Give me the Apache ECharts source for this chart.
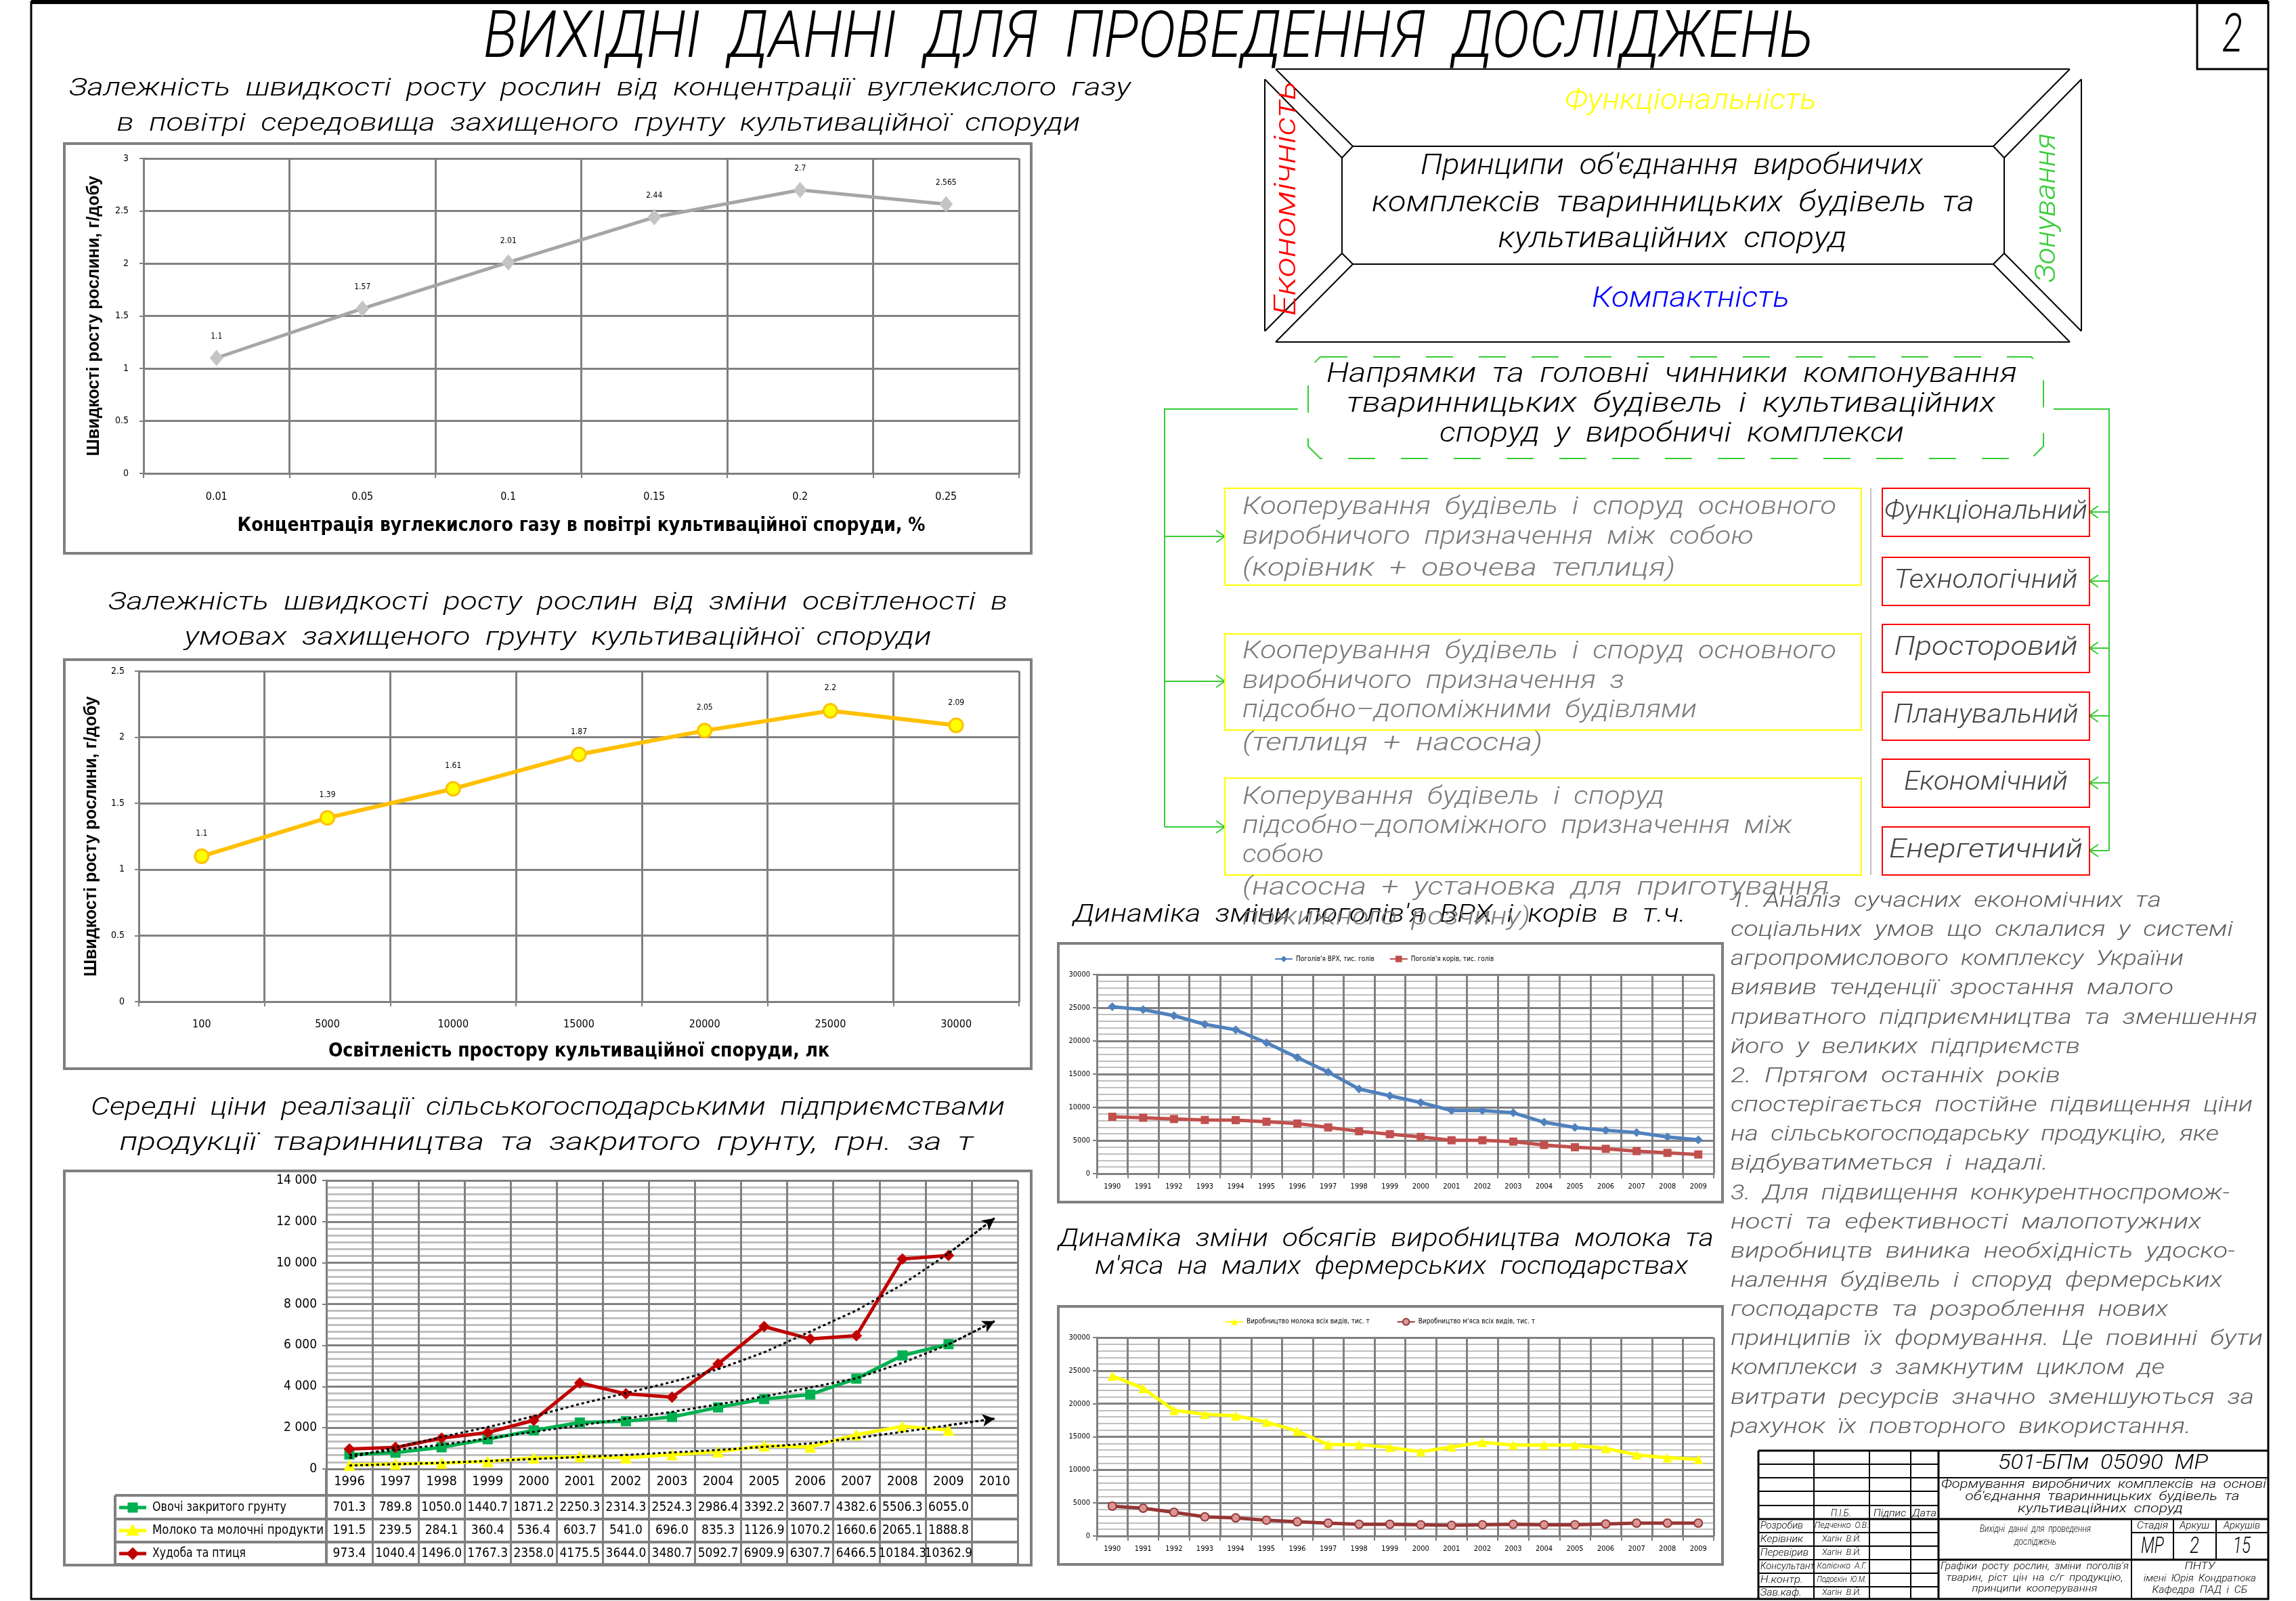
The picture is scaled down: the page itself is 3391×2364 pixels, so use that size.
<!DOCTYPE html>
<html><head><meta charset="utf-8">
<script src="https://cdn.jsdelivr.net/npm/echarts@6/dist/echarts.min.js"></script>
<style>html,body{margin:0;padding:0;background:#fff}#c{width:3391px;height:2364px}</style>
</head><body><div id="c"></div>
<script>
// ---------------- DATA ----------------
const co2Cats = ['0.01','0.05','0.1','0.15','0.2','0.25'];
const co2Growth = [1.1, 1.57, 2.01, 2.44, 2.7, 2.565];
const luxCats = ['100','5000','10000','15000','20000','25000','30000'];
const luxGrowth = [1.1, 1.39, 1.61, 1.87, 2.05, 2.2, 2.09];
const priceYears = ['1996','1997','1998','1999','2000','2001','2002','2003','2004','2005','2006','2007','2008','2009','2010'];
const vegPrice  = [701.3, 789.8, 1050.0, 1440.7, 1871.2, 2250.3, 2314.3, 2524.3, 2986.4, 3392.2, 3607.7, 4382.6, 5506.3, 6055.0, null];
const milkPrice = [191.5, 239.5, 284.1, 360.4, 536.4, 603.7, 541.0, 696.0, 835.3, 1126.9, 1070.2, 1660.6, 2065.1, 1888.8, null];
const meatPrice = [973.4, 1040.4, 1496.0, 1767.3, 2358.0, 4175.5, 3644.0, 3480.7, 5092.7, 6909.9, 6307.7, 6466.5, 10184.3, 10362.9, null];
const vegTrend  = [670, 920, 1175, 1480, 1800, 2110, 2440, 2770, 3130, 3520, 3950, 4400, 5150, 6040, 7170];
const milkTrend = [165, 230, 300, 385, 480, 580, 680, 800, 920, 1070, 1240, 1500, 1800, 2120, 2440];
const meatTrend = [540, 1050, 1550, 2030, 2560, 3150, 3680, 4220, 4840, 5660, 6670, 7690, 8950, 10460, 12170];
const priceRowNames = ['Овочі закритого грунту', 'Молоко та молочні продукти', 'Худоба та птиця'];
const herdYears = ['1990','1991','1992','1993','1994','1995','1996','1997','1998','1999','2000','2001','2002','2003','2004','2005','2006','2007','2008','2009'];
const cattleHead = [25160, 24720, 23800, 22500, 21690, 19720, 17510, 15300, 12750, 11730, 10710, 9520, 9520, 9180, 7750, 6970, 6530, 6190, 5540, 5100];
const cowHead    = [8570, 8430, 8230, 8090, 8060, 7820, 7550, 6970, 6390, 5950, 5540, 5030, 5030, 4830, 4320, 3980, 3740, 3400, 3130, 2890];
const milkOutput = [24200, 22330, 18990, 18410, 18170, 17220, 15850, 13810, 13810, 13400, 12720, 13470, 14150, 13740, 13740, 13740, 13230, 12270, 11830, 11590];
const meatOutput = [4500, 4190, 3580, 2900, 2730, 2390, 2150, 1940, 1770, 1770, 1700, 1600, 1700, 1770, 1700, 1700, 1810, 1940, 1940, 1940];

// ---------------- HELPERS ----------------
const THIN = "Roboto, 'DejaVu Sans'";
const THIN_W = 300;
const NARROW = 'Liberation Sans Narrow, DejaVu Sans Condensed, sans-serif';
const GRID_C = '#808080', MINOR_C = '#BFBFBF';
const mc = document.createElement('canvas').getContext('2d');
function T(text, x, y, w, size, o) {
  o = o || {};
  const fam = o.fam || THIN, st = o.st || 'italic', wt = o.wt || THIN_W;
  mc.font = st + ' ' + wt + ' ' + size + 'px ' + fam;
  const nat = mc.measureText(text).width || 1;
  const sx = w ? w / nat : 1;
  const align = o.align || 'center';
  return {type:'text', x:x, y:y, rotation:o.rot||0, scaleX:sx, z:o.z||60, silent:true,
    style:{text:text, fontSize:size, fontFamily:fam, fontStyle:st, fontWeight:wt, fill:o.c||'#000',
      align:align, textAlign:align, verticalAlign:'middle', textVerticalAlign:'middle'}};
}
function L(pts, o) {
  o = o || {};
  return {type:'polyline', z:o.z||40, silent:true, shape:{points:pts},
    style:{stroke:o.c||'#000', lineWidth:o.w||2, fill:null, lineDash:o.dash||null}};
}
function R(x, y, w, h, o) {
  o = o || {};
  return {type:'rect', z:o.z||40, silent:true, shape:{x:x, y:y, width:w, height:h},
    style:{stroke:o.c||GRID_C, lineWidth:o.w||4, fill:o.fill||null}};
}
function P(pts, o) {
  o = o || {};
  return {type:'polygon', z:o.z||45, silent:true, shape:{points:pts},
    style:{stroke:o.c||'#000', lineWidth:o.w||2, fill:o.fill||null, lineDash:o.dash||null}};
}

// ---------------- GRIDS ----------------
const G = [
  {left:212, top:234, width:1293, height:465},
  {left:205, top:991, width:1300, height:488},
  {left:482, top:1743, width:1021, height:426},
  {left:1620, top:1439, width:911, height:294},
  {left:1620, top:1975, width:911, height:293}
];
const G3b = G[2].top + G[2].height; // chart3 bottom

function catAxis(gi, data, extra) {
  return Object.assign({
    gridIndex:gi, type:'category', data:data, boundaryGap:true,
    axisLine:{lineStyle:{color:GRID_C, width:3}},
    axisTick:{show:true, interval:0, length:7, lineStyle:{color:GRID_C, width:2}},
    splitLine:{show:true, interval:0, lineStyle:{color:GRID_C, width:3}},
    axisLabel:{interval:0, color:'#000', fontFamily:NARROW, fontSize:15}
  }, extra);
}
function valAxis(gi, extra) {
  return Object.assign({
    gridIndex:gi, type:'value', min:0,
    axisLine:{show:true, lineStyle:{color:GRID_C, width:3}},
    axisTick:{show:true, length:6, lineStyle:{color:GRID_C, width:2}},
    splitLine:{show:true, lineStyle:{color:GRID_C, width:3}},
    axisLabel:{color:'#000', fontFamily:NARROW, fontSize:14}
  }, extra);
}

const rowArrays = [vegPrice, milkPrice, meatPrice];
const rowCenters = [2226, 2260, 2294];

const xAxes = [
  catAxis(0, co2Cats, {axisLabel:{interval:0, color:'#000', fontFamily:NARROW, fontSize:16, margin:27},
    name:'Концентрація вуглекислого газу в повітрі культиваційної споруди, %', nameLocation:'middle', nameGap:64,
    nameTextStyle:{fontFamily:NARROW, fontWeight:'bold', fontSize:28, color:'#000'}}),
  catAxis(1, luxCats, {axisLabel:{interval:0, color:'#000', fontFamily:NARROW, fontSize:16, margin:26},
    name:'Освітленість простору культиваційної споруди, лк', nameLocation:'middle', nameGap:60,
    nameTextStyle:{fontFamily:NARROW, fontWeight:'bold', fontSize:28, color:'#000'}}),
  catAxis(2, priceYears, {axisTick:{show:true, interval:0, length:141, lineStyle:{color:GRID_C, width:3}},
    axisLabel:{interval:0, color:'#000', fontFamily:NARROW, fontSize:20, margin:19, verticalAlign:'middle'}})
];
rowArrays.forEach(function(arr, k){
  xAxes.push({gridIndex:2, type:'category', data:priceYears, position:'bottom', offset:rowCenters[k]-G3b,
    axisLine:{show:false}, axisTick:{show:false}, splitLine:{show:false},
    axisLabel:{interval:0, margin:0, verticalAlign:'middle', color:'#000', fontFamily:NARROW, fontSize:19,
      formatter:function(v, i){ return arr[i] == null ? '' : arr[i].toFixed(1); }}});
});
const plainNum = function(v){ return String(v); };
xAxes.push(catAxis(3, herdYears, {axisLabel:{interval:0, color:'#000', fontFamily:NARROW, fontSize:11, margin:14}}));
xAxes.push(catAxis(4, herdYears, {axisLabel:{interval:0, color:'#000', fontFamily:NARROW, fontSize:11, margin:14}}));

const yName = {fontFamily:'Liberation Sans, Arial, sans-serif', fontWeight:'bold', fontSize:25, color:'#000'};
const yAxes = [
  valAxis(0, {max:3, interval:0.5, axisLabel:{color:'#000', fontFamily:NARROW, fontSize:14, margin:22},
    name:'Швидкості росту рослини, г/добу', nameLocation:'middle', nameGap:60, nameTextStyle:yName}),
  valAxis(1, {max:2.5, interval:0.5, axisLabel:{color:'#000', fontFamily:NARROW, fontSize:14, margin:21},
    name:'Швидкості росту рослини, г/добу', nameLocation:'middle', nameGap:57, nameTextStyle:yName}),
  valAxis(2, {max:14000, interval:2000,
    axisLabel:{color:'#000', fontFamily:NARROW, fontSize:19, margin:14,
      formatter:function(v){ return v >= 1000 ? (v/1000) + ' 000' : String(v); }},
    minorTick:{show:false, splitNumber:6}, minorSplitLine:{show:true, lineStyle:{color:MINOR_C, width:3}}}),
  valAxis(3, {max:30000, interval:5000, axisLabel:{color:'#000', fontFamily:NARROW, fontSize:11, margin:10, formatter:plainNum},
    minorTick:{show:false, splitNumber:5}, minorSplitLine:{show:true, lineStyle:{color:MINOR_C, width:2}}}),
  valAxis(4, {max:30000, interval:5000, axisLabel:{color:'#000', fontFamily:NARROW, fontSize:11, margin:10, formatter:plainNum},
    minorTick:{show:false, splitNumber:5}, minorSplitLine:{show:true, lineStyle:{color:MINOR_C, width:2}}})
];

function trend(name, data) {
  return {name:name, type:'line', xAxisIndex:2, yAxisIndex:2, data:data, symbol:'none', silent:true, z:5,
    lineStyle:{color:'#000', width:3, type:[4,4]},
    markLine:{silent:true, symbol:['none','arrow'], symbolSize:[14,18], label:{show:false},
      lineStyle:{color:'#000', width:3, type:[4,4]},
      data:[[{coord:['2009', data[13]]}, {coord:['2010', data[14]]}]]}};
}

const series = [
  {name:'co2', type:'line', xAxisIndex:0, yAxisIndex:0, data:co2Growth, z:4,
    lineStyle:{color:'#A6A6A6', width:5}, symbol:'diamond', symbolSize:[20,24],
    itemStyle:{color:'#C4C4C4'},
    label:{show:true, position:'top', distance:14, fontSize:12, fontFamily:NARROW, color:'#000'}},
  {name:'lux', type:'line', xAxisIndex:1, yAxisIndex:1, data:luxGrowth, z:4,
    lineStyle:{color:'#FFC000', width:6}, symbol:'circle', symbolSize:20,
    itemStyle:{color:'#FFFF00', borderColor:'#FFC000', borderWidth:3},
    label:{show:true, position:'top', distance:16, fontSize:12, fontFamily:NARROW, color:'#000'}},
  {name:priceRowNames[0], type:'line', xAxisIndex:2, yAxisIndex:2, data:vegPrice, z:4,
    lineStyle:{color:'#00B050', width:5}, symbol:'rect', symbolSize:15, itemStyle:{color:'#00B050'}},
  {name:priceRowNames[1], type:'line', xAxisIndex:2, yAxisIndex:2, data:milkPrice, z:4,
    lineStyle:{color:'#FFFF00', width:5}, symbol:'triangle', symbolSize:17, itemStyle:{color:'#FFFF00'}},
  {name:priceRowNames[2], type:'line', xAxisIndex:2, yAxisIndex:2, data:meatPrice, z:4,
    lineStyle:{color:'#C00000', width:5}, symbol:'diamond', symbolSize:17, itemStyle:{color:'#C00000'}},
  trend('tr1', vegTrend), trend('tr2', milkTrend), trend('tr3', meatTrend),
  {name:'Поголів\'я ВРХ, тис. голів', type:'line', xAxisIndex:6, yAxisIndex:3, data:cattleHead, z:4,
    lineStyle:{color:'#4F81BD', width:5}, symbol:'diamond', symbolSize:13, itemStyle:{color:'#4F81BD'}},
  {name:'Поголів\'я корів, тис. голів', type:'line', xAxisIndex:6, yAxisIndex:3, data:cowHead, z:4,
    lineStyle:{color:'#C0504D', width:5}, symbol:'rect', symbolSize:12, itemStyle:{color:'#C0504D'}},
  {name:'Виробництво молока всіх видів, тис. т', type:'line', xAxisIndex:7, yAxisIndex:4, data:milkOutput, z:4,
    lineStyle:{color:'#FFFF00', width:5}, symbol:'triangle', symbolSize:14, itemStyle:{color:'#FFFF00'}},
  {name:'Виробництво м\'яса всіх видів, тис. т', type:'line', xAxisIndex:7, yAxisIndex:4, data:meatOutput, z:4,
    lineStyle:{color:'#953735', width:5}, symbol:'circle', symbolSize:12,
    itemStyle:{color:'#D99694', borderColor:'#953735', borderWidth:2}}
];

const legendText = {fontSize:10, fontFamily:NARROW, color:'#000'};
const legends = [
  {data:[series[8].name, series[9].name], left:1877, top:1406, itemWidth:26, itemHeight:12, itemGap:22, textStyle:legendText, selectedMode:false},
  {data:[series[10].name, series[11].name], left:1804, top:1941, itemWidth:26, itemHeight:12, itemGap:40, textStyle:legendText, selectedMode:false}
];

// ---------------- GRAPHICS ----------------
const g = [];
// page frame
g.push(R(46, 3, 3304, 2358, {c:'#000', w:3}));
g.push(L([[46,3],[3350,3]], {w:6}));
g.push(L([[3245,3],[3245,102],[3350,102]], {w:3}));
g.push(T('2', 3297, 56, 30, 80));
// main title
g.push(T('ВИХІДНІ  ДАННІ  ДЛЯ  ПРОВЕДЕННЯ  ДОСЛІДЖЕНЬ', 1696, 60, 1964, 96));
// chart subtitles
g.push(T('Залежність  швидкості  росту  рослин  від  концентрації  вуглекислого  газу', 886, 132, 1568, 36));
g.push(T('в  повітрі  середовища  захищеного  грунту  культиваційної  споруди', 884, 184, 1423, 36));
g.push(T('Залежність  швидкості  росту  рослин  від  зміни  освітленості  в', 824, 891, 1328, 36));
g.push(T('умовах  захищеного  грунту  культиваційної  споруди', 824, 943, 1103, 36));
g.push(T('Середні  ціни  реалізації  сільськогосподарськими  підприємствами', 809, 1637, 1350, 36));
g.push(T('продукції  тваринництва  та  закритого  грунту,  грн.  за  т', 807, 1689, 1261, 36));
g.push(T('Динаміка  зміни  поголів\'я  ВРХ  і  корів  в  т.ч.', 1585, 1352, 905, 36, {align:'left'}));
g.push(T('Динаміка  зміни  обсягів  виробництва  молока  та', 2047, 1831, 968, 36));
g.push(T('м\'яса  на  малих  фермерських  господарствах', 2055, 1872, 876, 36));
// chart boxes
g.push(R(95, 212, 1428, 605));
g.push(R(95, 974, 1428, 604));
g.push(R(95, 1729, 1428, 582));
g.push(R(1563, 1393, 981, 382));
g.push(R(1563, 1929, 981, 381));
// price table
[2208, 2243, 2277, 2310].forEach(function(y){ g.push(L([[170,y],[G[2].left+G[2].width,y]], {c:GRID_C, w:4})); });
g.push(L([[170,2208],[170,2310]], {c:GRID_C, w:4}));
g.push(L([[G[2].left,2169],[G[2].left,2310]], {c:GRID_C, w:4}));
const rowColors = ['#00B050', '#FFFF00', '#C00000'];
const rowWidths = [198, 253, 138];
rowCenters.forEach(function(y, k){
  g.push(L([[176,y],[216,y]], {c:rowColors[k], w:5, z:46}));
  if (k === 0) g.push(R(189, y-7, 14, 14, {c:rowColors[k], fill:rowColors[k], w:1, z:47}));
  if (k === 1) g.push(P([[196,y-9],[205,y+7],[187,y+7]], {c:rowColors[k], fill:rowColors[k], w:1, z:47}));
  if (k === 2) g.push(P([[196,y-9],[205,y],[196,y+9],[187,y]], {c:rowColors[k], fill:rowColors[k], w:1, z:47}));
  g.push(T(priceRowNames[k], 225, y, rowWidths[k], 19, {fam:NARROW, st:'normal', wt:'normal', align:'left'}));
});

// ---- diagram 1 ----
g.push(L([[1884,102],[3057,102]]));
g.push(L([[1884,505],[3057,505]]));
g.push(L([[1868,117],[1868,489]]));
g.push(L([[3074,117],[3074,489]]));
g.push(P([[1998,216],[2944,216],[2960,233],[2960,374],[2944,390],[1998,390],[1982,374],[1982,233]]));
g.push(L([[1884,102],[1998,216]])); g.push(L([[1868,117],[1982,233]]));
g.push(L([[3057,102],[2944,216]])); g.push(L([[3074,117],[2960,233]]));
g.push(L([[1884,505],[1998,390]])); g.push(L([[1868,489],[1982,374]]));
g.push(L([[3057,505],[2944,390]])); g.push(L([[3074,489],[2960,374]]));
g.push(T('Функціональність', 2497, 150, 372, 42, {c:'#FFFF00'}));
g.push(T('Компактність', 2497, 442, 292, 42, {c:'#0000FF'}));
g.push(T('Економічність', 1902, 293, 347, 44, {c:'#FF0000', rot:Math.PI/2}));
g.push(T('Зонування', 3024, 307, 220, 42, {c:'#33CC33', rot:Math.PI/2}));
g.push(T('Принципи  об\'єднання  виробничих', 2469, 246, 742, 42));
g.push(T('комплексів  тваринницьких  будівель  та', 2471, 301, 890, 42));
g.push(T('культиваційних  споруд', 2470, 354, 515, 42));

// ---- diagram 2 ----
g.push(P([[1950,527],[3000,527],[3018,545],[3018,659],[3000,677],[1950,677],[1932,659],[1932,545]], {c:'#33CC33', w:2, dash:[40,38]}));
g.push(T('Напрямки  та  головні  чинники  компонування', 2469, 554, 1020, 40));
g.push(T('тваринницьких  будівель  і  культиваційних', 2468, 598, 958, 40));
g.push(T('споруд  у  виробничі  комплекси', 2469, 642, 686, 40));
const GREEN = '#33CC33';
g.push(L([[1917,604],[1720,604],[1720,1221]], {c:GREEN}));
[792, 1006, 1221].forEach(function(y){
  g.push(L([[1720,y],[1809,y]], {c:GREEN}));
  g.push(L([[1796,y-9],[1809,y],[1796,y+9]], {c:GREEN}));
});
g.push(L([[3033,604],[3115,604],[3115,1256]], {c:GREEN}));
const redY = [721, 823, 922, 1022, 1121, 1221];
redY.forEach(function(y){
  const m = y + 35;
  g.push(L([[3115,m],[3086,m]], {c:GREEN}));
  g.push(L([[3099,m-9],[3086,m],[3099,m+9]], {c:GREEN}));
  g.push(R(2780, y, 306, 71, {c:'#FF0000', w:2}));
});
const redTexts = ['Функціональний','Технологічний','Просторовий','Планувальний','Економічний','Енергетичний'];
const redW = [300, 271, 271, 273, 242, 286];
redTexts.forEach(function(t, k){ g.push(T(t, 2933, redY[k]+35, redW[k], 38, {c:'#444'})); });
[[721,143],[936,142],[1149,143]].forEach(function(b){ g.push(R(1809, b[0], 940, b[1], {c:'#FFFF00', w:2})); });
g.push(L([[2763,721],[2763,1292]], {c:'#C0C0C0', w:2}));
const yb = [
  ['Кооперування  будівель  і  споруд  основного', 750, 877],
  ['виробничого  призначення  між  собою', 794, 755],
  ['(корівник  +  овочева  теплиця)', 841, 639],
  ['Кооперування  будівель  і  споруд  основного', 963, 877],
  ['виробничого  призначення  з', 1007, 564],
  ['підсобно–допоміжними  будівлями', 1050, 671],
  ['(теплиця  +  насосна)', 1099, 443],
  ['Коперування  будівель  і  споруд', 1178, 623],
  ['підсобно–допоміжного  призначення  між', 1221, 812],
  ['собою', 1264, 120],
  ['(насосна  +  установка  для  приготування', 1312, 866],
  ['пожижного  розчину)', 1356, 425]
];
yb.forEach(function(r){ g.push(T(r[0], 1835, r[1], r[2], 36, {c:'#7A7A7A', align:'left'})); });

// ---- right text block ----
const notes = [
  ['1.  Аналіз  сучасних  економічних  та', 636],
  ['соціальних  умов  що  склалися  у  системі', 742],
  ['агропромислового  комплексу  України', 669],
  ['виявив  тенденції  зростання  малого', 654],
  ['приватного  підприємництва  та  зменшення', 778],
  ['його  у  великих  підприємств', 516],
  ['2.  Пртягом  останніх  років', 487],
  ['спостерігається  постійне  підвищення  ціни', 771],
  ['на  сільськогосподарську  продукцію,  яке', 721],
  ['відбуватиметься  і  надалі.', 469],
  ['3.  Для  підвищення  конкурентноспромож-', 737],
  ['ності  та  ефективності  малопотужних', 695],
  ['виробництв  виника  необхідність  удоско-', 745],
  ['налення  будівель  і  споруд  фермерських', 726],
  ['господарств  та  розроблення  нових', 646],
  ['принципів  їх  формування.  Це  повинні  бути', 786],
  ['комплекси  з  замкнутим  циклом  де', 641],
  ['витрати  ресурсів  значно  зменшуються  за', 773],
  ['рахунок  їх  повторного  використання.', 680]
];
notes.forEach(function(r, i){ g.push(T(r[0], 2556, 1331 + 43.15*i, r[1], 32, {c:'#606060', align:'left'})); });

// ---- title block ----
const TB = {w:2};
g.push(L([[2597,2142],[3350,2142]], {w:3}));
g.push(L([[2597,2142],[2597,2361]], {w:3}));
[2162,2182,2202,2223,2263,2283,2303,2323,2343].forEach(function(y){ g.push(L([[2597,y],[2863,y]], TB)); });
g.push(L([[2597,2243],[3350,2243]], {w:3}));
[2679,2761,2822].forEach(function(x){ g.push(L([[x,2142],[x,2361]], TB)); });
g.push(L([[2863,2142],[2863,2361]], {w:3}));
g.push(L([[2863,2182],[3350,2182]], TB));
g.push(L([[2863,2303],[3350,2303]], {w:3}));
g.push(L([[3148,2243],[3148,2361]], TB));
g.push(L([[3210,2243],[3210,2303]], TB));
g.push(L([[3273,2243],[3273,2303]], TB));
g.push(L([[3148,2263],[3350,2263]], TB));
const tb = function(t, x, y, w, s, o){ g.push(T(t, x, y, w, s || 15, o)); };
tb('501-БПм  05090  МР', 3106, 2161, 310, 32);
tb('Формування  виробничих  комплексів  на  основі', 3107, 2192, 480, 18);
tb('об\'єднання  тваринницьких  будівель  та', 3105, 2210, 405, 18);
tb('культиваційних  споруд', 3102, 2228, 244, 18);
tb('Вихідні  данні  для  проведення', 3006, 2258, 164, 15);
tb('досліджень', 3006, 2277, 62, 15);
tb('Стадія', 3179, 2253, 46, 15);
tb('Аркуш', 3241, 2253, 44, 15);
tb('Аркушів', 3311, 2253, 54, 15);
tb('МР', 3179, 2284, 34, 34);
tb('2', 3241, 2284, 14, 34);
tb('15', 3311, 2284, 26, 34);
tb('Графіки  росту  рослин,  зміни  поголів\'я', 3005, 2313, 278, 14);
tb('тварин,  ріст  цін  на  с/г  продукцію,', 3005, 2330, 261, 14);
tb('принципи  кооперування', 3005, 2346, 185, 14);
tb('ПНТУ', 3249, 2313, 45, 15);
tb('імені  Юрія  Кондратюка', 3249, 2331, 166, 15);
tb('Кафедра  ПАД  і  СБ', 3249, 2348, 141, 15);
tb('П.І.Б.', 2719, 2235, 30, 14);
tb('Підпис', 2791, 2235, 48, 14);
tb('Дата', 2842, 2235, 36, 14);
const roles = [['Розробив',63],['Керівник',63],['Перевірив',71],['Консультант',80],['Н.контр.',63],['Зав.каф.',61]];
const people = [['Педченко  О.В.',80],['Хагін  В.Й.',58],['Хагін  В.Й.',58],['Колієнко  А.Г.',73],['Подоєкін  Ю.М.',73],['Хагін  В.Й.',58]];
roles.forEach(function(r, i){
  const y = 2253 + 20*i - (i === 5 ? 1 : 0);
  g.push(T(r[0], 2600, y, r[1], 15, {align:'left'}));
  g.push(T(people[i][0], 2720, y, people[i][1], 13));
});

const option = {
  animation:false,
  backgroundColor:'#fff',
  grid:G.map(function(x){ return Object.assign({containLabel:false}, x); }),
  xAxis:xAxes, yAxis:yAxes, series:series, legend:legends,
  graphic:{elements:g}
};
const chart = echarts.init(document.getElementById('c'), null, {renderer:'canvas'});
chart.setOption(option);
</script></body></html>
